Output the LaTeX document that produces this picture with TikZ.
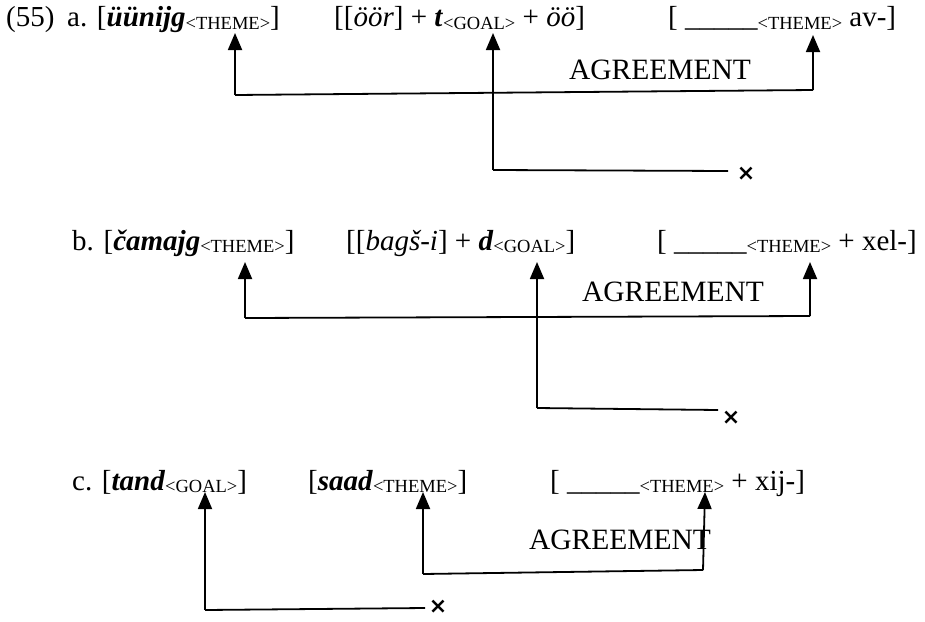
\documentclass[tikz,border=0pt]{standalone}
\usepackage{fontspec}
\setmainfont{Liberation Serif}
\newfontfamily\symf{DejaVu Sans}
\usetikzlibrary{arrows.meta}
\newcommand\sbs[1]{\raisebox{-2pt}{\fontsize{18.5}{18.5}\selectfont #1}}
\newcommand\bi[1]{\textbf{\textit{#1}}}
\newcommand\blank{\_\_\_\_\_}
\begin{document}
\begin{tikzpicture}[x=1pt,y=-1pt,
  txt/.style={anchor=base west,inner sep=0pt,font=\fontsize{29}{29}\selectfont},
  agr/.style={inner sep=0pt,font=\fontsize{29.5}{29.5}\selectfont},
  conn/.style={line width=1.8pt},
  arr/.style={conn,-{Triangle[width=14pt,length=17pt]}},
  cross/.style={inner sep=0pt,font=\symf\bfseries\fontsize{22}{22}\selectfont}]
\useasboundingbox (0,0) rectangle (925,621);
% ---- row a
\node[txt] (a0) at (6,27) {(55)};
\node[txt] (a1) at (67,27) {a. [\bi{üünijg}\sbs{<THEME>}]};
\node[txt] (a2) at (334,27) {[[\textit{öör}] + \bi{t}\sbs{<GOAL>} + \textit{öö}]};
\node[txt] (a3) at (668,27) {[ \blank\sbs{<THEME>} av-]};
\node[agr] (agA) at (660,70) {AGREEMENT};
\coordinate (aT1) at (235,33);
\coordinate (aT2) at (493,33);
\coordinate (aT3) at (813,35);
\coordinate (aC1) at (235,95);
\coordinate (aC3) at (813,90);
\coordinate (aG) at (493,170);
\coordinate (aGe) at (728,171);
\node[cross] (aX) at (746,174) {×};
\draw[arr] (aC1) -- (aT1);
\draw[arr] (aC3) -- (aT3);
\draw[conn] (aC1) -- (aC3);
\draw[arr] (aG) -- (aT2);
\draw[conn] (aG) -- (aGe);
% ---- row b
\node[txt] (b1) at (72,250) {b. [\bi{čamajg}\sbs{<THEME>}]};
\node[txt] (b2) at (346,250) {[[\textit{bagš-i}] + \bi{d}\sbs{<GOAL>}]};
\node[txt] (b3) at (657,250) {[ \blank\sbs{<THEME>} + xel-]};
\node[agr] (agB) at (673,292) {AGREEMENT};
\coordinate (bT1) at (245,262);
\coordinate (bT2) at (537,262);
\coordinate (bT3) at (810,262);
\coordinate (bC1) at (245,318);
\coordinate (bC3) at (810,316);
\coordinate (bG) at (537,408);
\coordinate (bGe) at (718,410);
\node[cross] (bX) at (731,418) {×};
\draw[arr] (bC1) -- (bT1);
\draw[arr] (bC3) -- (bT3);
\draw[conn] (bC1) -- (bC3);
\draw[arr] (bG) -- (bT2);
\draw[conn] (bG) -- (bGe);
% ---- row c
\node[txt] (c1) at (72,490) {c. [\bi{tand}\sbs{<GOAL>}]};
\node[txt] (c2) at (308,490) {[\bi{saad}\sbs{<THEME>}]};
\node[txt] (c3) at (550,490) {[ \blank\sbs{<THEME>} + xij-]};
\node[agr] (agC) at (620,540) {AGREEMENT};
\coordinate (cT1) at (205,492);
\coordinate (cT2) at (423,492);
\coordinate (cT3) at (705,492);
\coordinate (cG) at (205,610);
\coordinate (cGe) at (425,608);
\coordinate (cC2) at (423,574);
\coordinate (cC3) at (703,570);
\node[cross] (cX) at (438,607) {×};
\draw[arr] (cG) -- (cT1);
\draw[conn] (cG) -- (cGe);
\draw[arr] (cC2) -- (cT2);
\draw[arr] (cC3) -- (cT3);
\draw[conn] (cC2) -- (cC3);
\end{tikzpicture}
\end{document}
